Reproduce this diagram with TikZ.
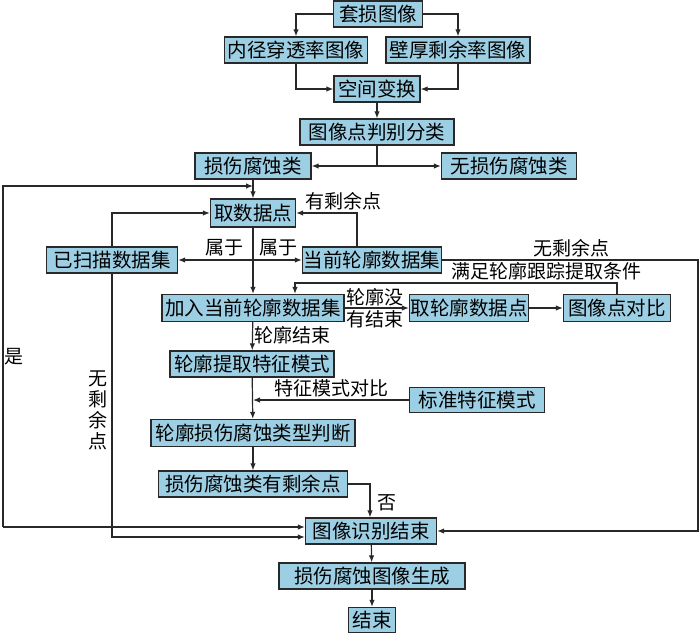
\documentclass[tikz,border=0pt]{standalone}
\usepackage{fontspec}
\newfontfamily\cjk{Noto Sans CJK SC}
\usetikzlibrary{arrows.meta,calc}
\definecolor{boxfill}{RGB}{157,207,228}
\definecolor{linec}{RGB}{40,40,40}
\tikzset{
  box/.style={draw=linec,line width=1.3pt,fill=boxfill,inner sep=0pt,minimum height=26pt,font=\cjk\fontsize{19.5}{21}\selectfont,text=black},
  lbl/.style={inner sep=0pt,font=\cjk\fontsize{19}{21}\selectfont,text=black},
  arr/.style={draw=linec,line width=1.2pt,-{Latex[length=7pt,width=5.5pt]}},
  ln/.style={draw=linec,line width=1.2pt}
}
\begin{document}
\begin{tikzpicture}[x=1pt,y=-1pt]
\useasboundingbox (0,0) rectangle (700,635);
% nodes
\node[box,minimum width=89pt] (tao) at (378,14) {套损图像};
\node[box,minimum width=143pt] (nj) at (296,50) {内径穿透率图像};
\node[box,minimum width=144pt] (bh) at (458,50) {壁厚剩余率图像};
\node[box,minimum width=86pt] (kj) at (377,89) {空间变换};
\node[box,minimum width=154pt] (fl) at (377,132) {图像点判别分类};
\node[box,minimum width=116pt] (ss) at (253,166) {损伤腐蚀类};
\node[box,minimum width=135pt] (ws) at (509,166) {无损伤腐蚀类};
\node[box,minimum width=85pt,minimum height=28pt] (qs) at (253,213) {取数据点};
\node[box,minimum width=131pt] (ys) at (112,260) {已扫描数据集};
\node[box,minimum width=139pt] (dq) at (372,260) {当前轮廓数据集};
\node[box,minimum width=182pt,minimum height=27pt] (jr) at (253,308) {加入当前轮廓数据集};
\node[box,minimum width=119pt,minimum height=27pt] (ql) at (469,308) {取轮廓数据点};
\node[box,minimum width=107pt,minimum height=27pt] (db) at (617,308) {图像点对比};
\node[box,minimum width=164pt] (tz) at (252,364) {轮廓提取特征模式};
\node[box,minimum width=135pt,minimum height=25pt] (bz) at (477,400) {标准特征模式};
\node[box,minimum width=204pt,minimum height=27pt] (pd) at (253,433) {轮廓损伤腐蚀类型判断};
\node[box,minimum width=189pt] (yy) at (253,484) {损伤腐蚀类有剩余点};
\node[box,minimum width=131pt] (sb) at (371,531) {图像识别结束};
\node[box,minimum width=186pt] (sc) at (372,576) {损伤腐蚀图像生成};
\node[box,minimum width=47pt,minimum height=25pt] (js) at (372,620) {结束};
% coordinates
\coordinate (br) at (377,166);
\coordinate (J) at (253,186);
\coordinate (L1) at (3,186);
\coordinate (L2) at (3,527);
\coordinate (B) at (253,260);
\coordinate (F) at (253,400);
\coordinate (R1) at (698,260);
\coordinate (T1) at (617,283);
% connectors
\draw[arr] (tao.west) -| (nj.north);
\draw[arr] (tao.east) -| (bh.north);
\draw[arr] (nj.south) |- (kj.west);
\draw[arr] (bh.south) |- (kj.east);
\draw[arr] (kj) -- (fl);
\draw[ln] (fl.south) -- (br);
\draw[arr] (br) -- (ss.east);
\draw[arr] (br) -- (ws.west);
\draw[arr] (ss) -- (qs);
\draw[arr] (L2) -- (L1) -- (J);
\draw[arr] (L2) -- ($(sb.west)+(0,-4)$);
\draw[arr] ($(dq.north)+(-15,0)$) |- (qs.east);
\draw[arr] (ys.north) |- (qs.west);
\draw[arr] (ys.south) |- ($(sb.west)+(0,6)$);
\draw[arr] (qs) -- (jr);
\draw[arr] (B) -- (ys.east);
\draw[arr] (B) -- (dq.west);
\draw[arr] (jr) -- (ql);
\draw[arr] (ql) -- (db);
\draw[arr] (db.north) -- (T1) -| ($(jr.north)+(42,0)$);
\draw[arr] (dq.east) -- (R1) |- (sb.east);
\draw[arr] (jr) -- (tz);
\draw[arr] (tz) -- (pd);
\draw[arr] (bz.west) -- (F);
\draw[arr] (pd) -- (yy);
\draw[arr] (yy.east) -| ($(sb.north)+(-1,0)$);
\draw[arr] (sb) -- (sc);
\draw[arr] (sc) -- (js);
% labels
\node[lbl] (l1) at (14,357) {是};
\node[lbl,align=center] (l2) at (98,410) {无\\剩\\余\\点};
\node[lbl] (l3) at (343,201) {有剩余点};
\node[lbl] (l4) at (224,248) {属于};
\node[lbl] (l5) at (278,248) {属于};
\node[lbl] (l6) at (571,248) {无剩余点};
\node[lbl] (l7) at (546,271) {满足轮廓跟踪提取条件};
\node[lbl] (l8) at (375,297) {轮廓没};
\node[lbl] (l9) at (375,319) {有结束};
\node[lbl] (l10) at (292,335) {轮廓结束};
\node[lbl] (l11) at (331,388) {特征模式对比};
\node[lbl] (l12) at (387,503) {否};
\end{tikzpicture}
\end{document}
